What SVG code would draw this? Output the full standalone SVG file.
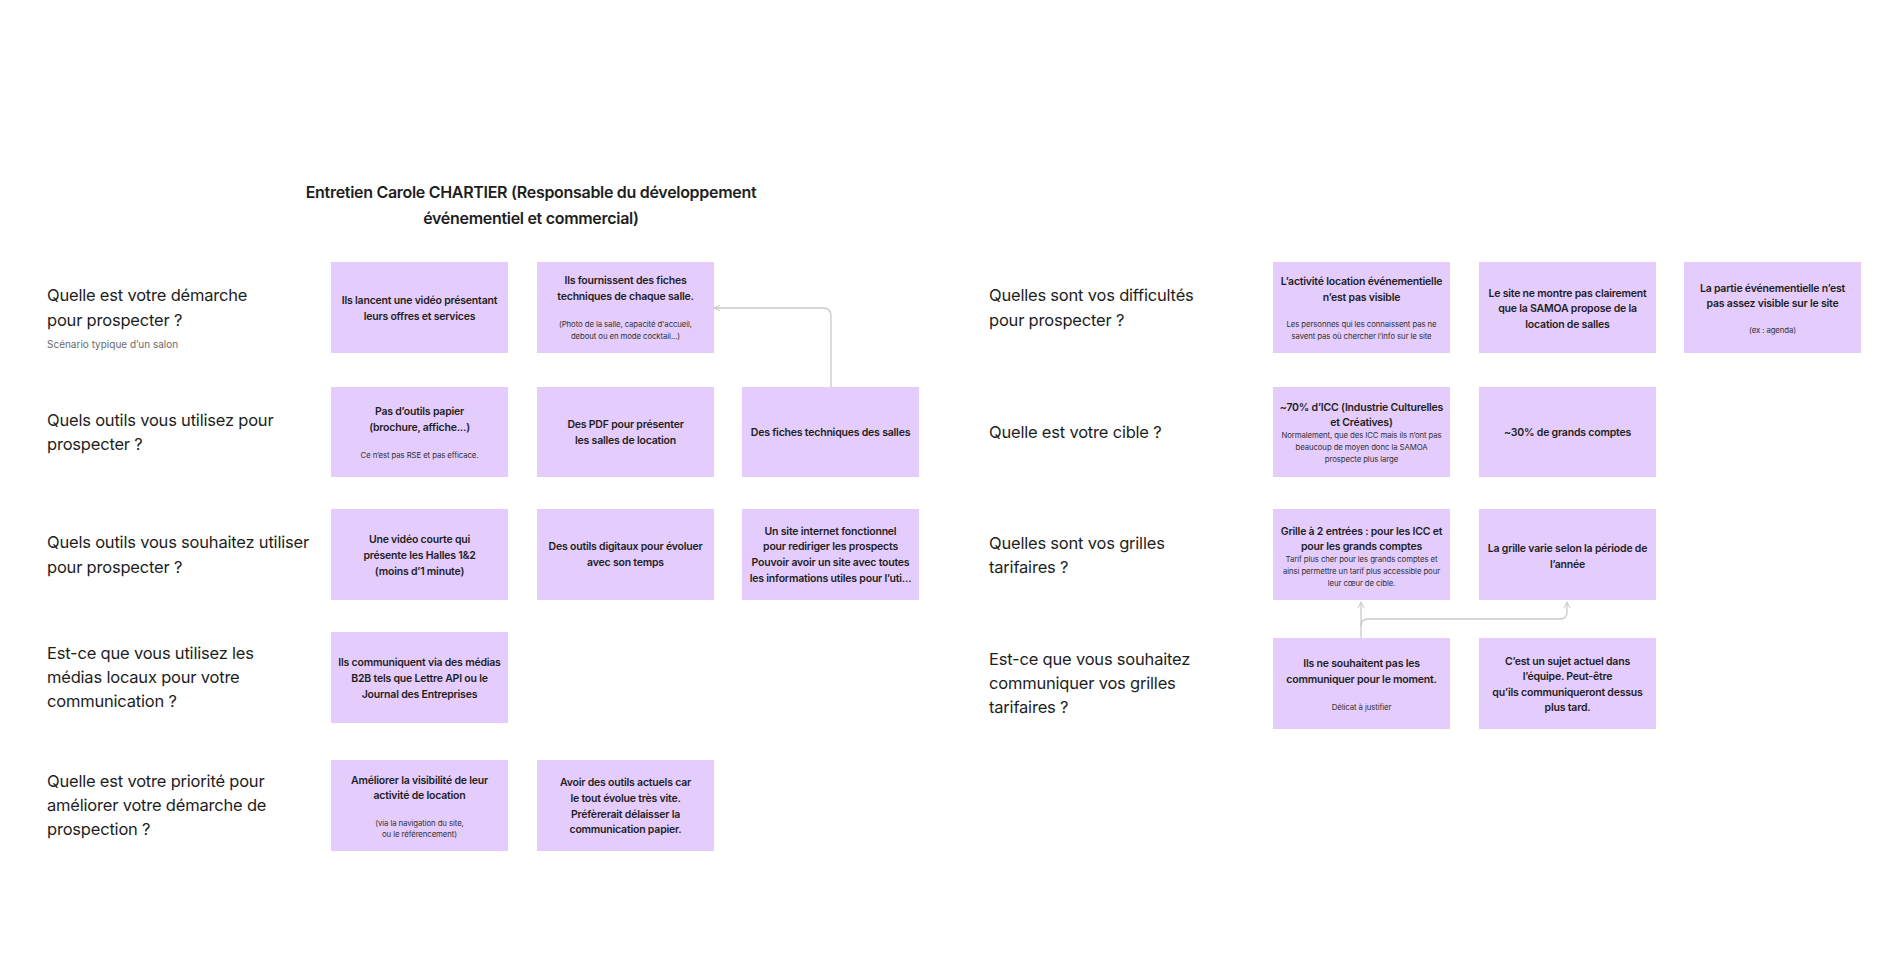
<svg xmlns="http://www.w3.org/2000/svg" width="1886" height="969" viewBox="0 0 1886 969">
<style>
text{font-family:Inter,"Noto Sans",sans-serif;fill:#1e1e1e}
.q{font-size:16.5px;letter-spacing:-0.2px}
.t{font-size:16px;font-weight:600;text-anchor:middle;letter-spacing:-0.3px}
.s{font-size:10px;fill:#6b6b6b}
.b rect{fill:#E4CCFD}
.b text{text-anchor:middle;font-size:10.5px;font-weight:600;dominant-baseline:central;letter-spacing:-0.2px}
.b text.m{font-size:7.8px;font-weight:400;fill:#333;letter-spacing:-0.1px}
.c{fill:none;stroke:#c9c9c9;stroke-width:1.3}
</style>
<defs><marker id="a" markerWidth="8" markerHeight="8" refX="7" refY="4" orient="auto" markerUnits="userSpaceOnUse"><path d="M1,1 L7,4 L1,7" fill="none" stroke="#c9c9c9" stroke-width="1"/></marker></defs>
<rect width="1886" height="969" fill="#fff"/>
<g id="title"><text class="t" x="531" y="198">Entretien Carole CHARTIER (Responsable du développement</text><text class="t" x="531" y="224">événementiel et commercial)</text></g>
<g id="questions">
<text class="q" x="47" y="301">Quelle est votre démarche</text><text class="q" x="47" y="326">pour prospecter ?</text>
<text class="s" x="47" y="348">Scénario typique d’un salon</text>
<text class="q" x="47" y="426">Quels outils vous utilisez pour</text><text class="q" x="47" y="450">prospecter ?</text>
<text class="q" x="47" y="548">Quels outils vous souhaitez utiliser</text><text class="q" x="47" y="573">pour prospecter ?</text>
<text class="q" x="47" y="659">Est-ce que vous utilisez les</text><text class="q" x="47" y="683">médias locaux pour votre</text><text class="q" x="47" y="707">communication ?</text>
<text class="q" x="47" y="787">Quelle est votre priorité pour</text><text class="q" x="47" y="811">améliorer votre démarche de</text><text class="q" x="47" y="835">prospection ?</text>
<text class="q" x="989" y="301">Quelles sont vos difficultés</text><text class="q" x="989" y="326">pour prospecter ?</text>
<text class="q" x="989" y="438">Quelle est votre cible ?</text>
<text class="q" x="989" y="549">Quelles sont vos grilles</text><text class="q" x="989" y="573">tarifaires ?</text>
<text class="q" x="989" y="665">Est-ce que vous souhaitez</text><text class="q" x="989" y="689">communiquer vos grilles</text><text class="q" x="989" y="713">tarifaires ?</text>
</g>
<g id="connectors">
<path class="c" d="M831,387 V316 Q831,308 823,308 H714" marker-end="url(#a)"/>
<path class="c" d="M1361,638 V602" marker-end="url(#a)"/>
<path class="c" d="M1361,626 Q1361,619 1368,619 H1560 Q1567,619 1567,612 V602" marker-end="url(#a)"/>
</g>
<g id="n1" class="b"><rect x="331" y="262" width="177" height="91"/><text x="419.5" y="300">Ils lancent une vidéo présentant</text><text x="419.5" y="316">leurs offres et services</text></g>
<g id="n2" class="b"><rect x="537" y="262" width="177" height="91"/><text x="625.5" y="280">Ils fournissent des fiches</text><text x="625.5" y="296">techniques de chaque salle.</text><text class="m" x="625.5" y="324">(Photo de la salle, capacité d'accueil,</text><text class="m" x="625.5" y="336">debout ou en mode cocktail...)</text></g>
<g id="n3" class="b"><rect x="331" y="387" width="177" height="90"/><text x="419.5" y="411">Pas d’outils papier</text><text x="419.5" y="427">(brochure, affiche...)</text><text class="m" x="419.5" y="455">Ce n’est pas RSE et pas efficace.</text></g>
<g id="n4" class="b"><rect x="537" y="387" width="177" height="90"/><text x="625.5" y="424">Des PDF pour présenter</text><text x="625.5" y="440">les salles de location</text></g>
<g id="n5" class="b"><rect x="742" y="387" width="177" height="90"/><text x="830.5" y="432">Des fiches techniques des salles</text></g>
<g id="n6" class="b"><rect x="331" y="509" width="177" height="91"/><text x="419.5" y="539">Une vidéo courte qui</text><text x="419.5" y="555">présente les Halles 1&amp;2</text><text x="419.5" y="571">(moins d’1 minute)</text></g>
<g id="n7" class="b"><rect x="537" y="509" width="177" height="91"/><text x="625.5" y="546">Des outils digitaux pour évoluer</text><text x="625.5" y="562">avec son temps</text></g>
<g id="n8" class="b"><rect x="742" y="509" width="177" height="91"/><text x="830.5" y="531">Un site internet fonctionnel</text><text x="830.5" y="546">pour rediriger les prospects</text><text x="830.5" y="562">Pouvoir avoir un site avec toutes</text><text x="830.5" y="578">les informations utiles pour l’uti...</text></g>
<g id="n9" class="b"><rect x="331" y="632" width="177" height="91"/><text x="419.5" y="662">Ils communiquent via des médias</text><text x="419.5" y="678">B2B tels que Lettre API ou le</text><text x="419.5" y="694">Journal des Entreprises</text></g>
<g id="n10" class="b"><rect x="331" y="760" width="177" height="91"/><text x="419.5" y="780">Améliorer la visibilité de leur</text><text x="419.5" y="795">activité de location</text><text class="m" x="419.5" y="823">(via la navigation du site,</text><text class="m" x="419.5" y="834">ou le référencement)</text></g>
<g id="n11" class="b"><rect x="537" y="760" width="177" height="91"/><text x="625.5" y="782">Avoir des outils actuels car</text><text x="625.5" y="798">le tout évolue très vite.</text><text x="625.5" y="814">Préfèrerait délaisser la</text><text x="625.5" y="829">communication papier.</text></g>
<g id="n12" class="b"><rect x="1273" y="262" width="177" height="91"/><text x="1361.5" y="281">L’activité location événementielle</text><text x="1361.5" y="297">n’est pas visible</text><text class="m" x="1361.5" y="324">Les personnes qui les connaissent pas ne</text><text class="m" x="1361.5" y="336">savent pas où chercher l’info sur le site</text></g>
<g id="n13" class="b"><rect x="1479" y="262" width="177" height="91"/><text x="1567.5" y="293">Le site ne montre pas clairement</text><text x="1567.5" y="308">que la SAMOA propose de la</text><text x="1567.5" y="324">location de salles</text></g>
<g id="n14" class="b"><rect x="1684" y="262" width="177" height="91"/><text x="1772.5" y="288">La partie événementielle n’est</text><text x="1772.5" y="303">pas assez visible sur le site</text><text class="m" x="1772.5" y="330">(ex : agenda)</text></g>
<g id="n15" class="b"><rect x="1273" y="387" width="177" height="90"/><text x="1361.5" y="407">~70% d’ICC (Industrie Culturelles</text><text x="1361.5" y="422">et Créatives)</text><text class="m" x="1361.5" y="435">Normalement, que des ICC mais ils n’ont pas</text><text class="m" x="1361.5" y="447">beaucoup de moyen donc la SAMOA</text><text class="m" x="1361.5" y="459">prospecte plus large</text></g>
<g id="n16" class="b"><rect x="1479" y="387" width="177" height="90"/><text x="1567.5" y="432">~30% de grands comptes</text></g>
<g id="n17" class="b"><rect x="1273" y="509" width="177" height="91"/><text x="1361.5" y="531">Grille à 2 entrées : pour les ICC et</text><text x="1361.5" y="546">pour les grands comptes</text><text class="m" x="1361.5" y="559">Tarif plus cher pour les grands comptes et</text><text class="m" x="1361.5" y="571">ainsi permettre un tarif plus accessible pour</text><text class="m" x="1361.5" y="583">leur cœur de cible.</text></g>
<g id="n18" class="b"><rect x="1479" y="509" width="177" height="91"/><text x="1567.5" y="548">La grille varie selon la période de</text><text x="1567.5" y="564">l’année</text></g>
<g id="n19" class="b"><rect x="1273" y="638" width="177" height="91"/><text x="1361.5" y="663">Ils ne souhaitent pas les</text><text x="1361.5" y="679">communiquer pour le moment.</text><text class="m" x="1361.5" y="707">Délicat à justifier</text></g>
<g id="n20" class="b"><rect x="1479" y="638" width="177" height="91"/><text x="1567.5" y="661">C’est un sujet actuel dans</text><text x="1567.5" y="676">l’équipe. Peut-être</text><text x="1567.5" y="692">qu’ils communiqueront dessus</text><text x="1567.5" y="707">plus tard.</text></g>
</svg>
